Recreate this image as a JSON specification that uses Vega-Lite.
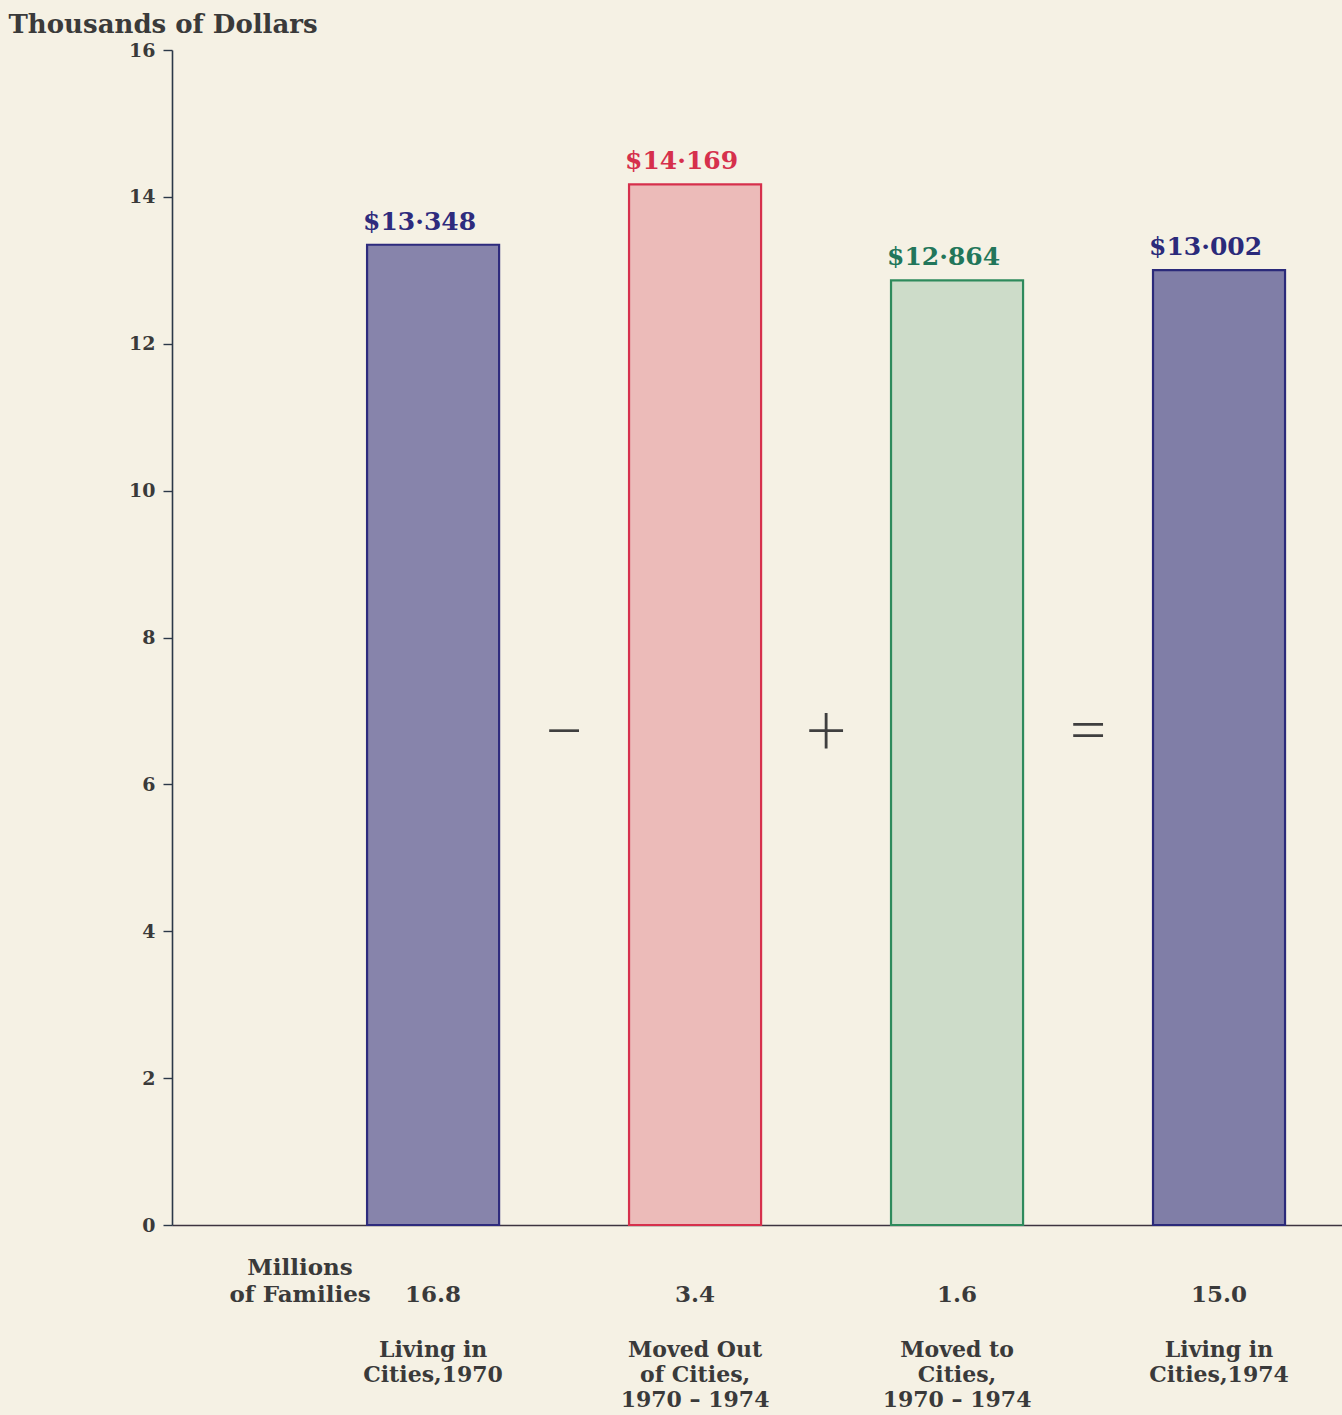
{
  "$schema": "https://vega.github.io/schema/vega-lite/v6.json",
  "width": 1170,
  "height": 1175,
  "autosize": {"type": "none"},
  "padding": {"left": 172, "top": 50, "right": 0, "bottom": 190},
  "background": "#f5f1e4",
  "config": {"view": {"stroke": null}, "font": "DejaVu Serif"},
  "data": {
    "values": [
      {"group": "Living in Cities, 1970", "name": "Living in\nCities,1970", "income": 13.348, "incomeLabel": "$13·348", "families": 16.8},
      {"group": "Moved Out of Cities, 1970 – 1974", "name": "Moved Out\nof Cities,\n1970 – 1974", "income": 14.169, "incomeLabel": "$14·169", "families": 3.4},
      {"group": "Moved to Cities, 1970 – 1974", "name": "Moved to\nCities,\n1970 – 1974", "income": 12.864, "incomeLabel": "$12·864", "families": 1.6},
      {"group": "Living in Cities, 1974", "name": "Living in\nCities,1974", "income": 13.002, "incomeLabel": "$13·002", "families": 15.0}
    ]
  },
  "encoding": {
    "x": {
      "field": "group",
      "type": "nominal",
      "sort": null,
      "scale": {"type": "band", "paddingInner": 0.496, "paddingOuter": 0.481, "align": 0.774},
      "axis": {"labels": false, "ticks": false, "title": null, "domainColor": "#3d3440", "domainWidth": 1.6}
    }
  },
  "layer": [
    {
      "mark": {"type": "bar", "strokeWidth": 2.2},
      "encoding": {
        "y": {
          "field": "income",
          "type": "quantitative",
          "scale": {"domain": [0, 16], "nice": false, "zero": true},
          "axis": {
            "values": [0, 2, 4, 6, 8, 10, 12, 14, 16],
            "format": "d",
            "grid": false,
            "domainColor": "#2b3848",
            "domainWidth": 1.6,
            "tickColor": "#2b3848",
            "tickWidth": 1.4,
            "tickSize": 9,
            "labelFontSize": 19,
            "labelFontWeight": "bold",
            "labelColor": "#3a3a3a",
            "labelPadding": 8,
            "title": "Thousands of Dollars",
            "titleAngle": 0,
            "titleX": -164,
            "titleY": -18,
            "titleAlign": "left",
            "titleBaseline": "alphabetic",
            "titleFontSize": 26,
            "titleFontWeight": "bold",
            "titleColor": "#3a3a3a"
          }
        },
        "fill": {
          "field": "group",
          "type": "nominal",
          "scale": {
            "domain": ["Living in Cities, 1970", "Moved Out of Cities, 1970 – 1974", "Moved to Cities, 1970 – 1974", "Living in Cities, 1974"],
            "range": ["#8784ab", "#ecbbb9", "#cddcc9", "#807ea7"]
          },
          "legend": null
        },
        "stroke": {
          "field": "group",
          "type": "nominal",
          "scale": {
            "domain": ["Living in Cities, 1970", "Moved Out of Cities, 1970 – 1974", "Moved to Cities, 1970 – 1974", "Living in Cities, 1974"],
            "range": ["#2e2b7d", "#d6304c", "#2e8a5c", "#2b2a7a"]
          },
          "legend": null
        }
      }
    },
    {
      "mark": {"type": "text", "align": "left", "baseline": "alphabetic", "dx": -4, "dy": -15, "fontSize": 25, "fontWeight": "bold"},
      "encoding": {
        "x": {"field": "group", "type": "nominal", "sort": null, "bandPosition": 0},
        "y": {"field": "income", "type": "quantitative"},
        "text": {"field": "incomeLabel"},
        "color": {
          "field": "group",
          "type": "nominal",
          "scale": {
            "domain": ["Living in Cities, 1970", "Moved Out of Cities, 1970 – 1974", "Moved to Cities, 1970 – 1974", "Living in Cities, 1974"],
            "range": ["#2e2b7d", "#d6304c", "#22765a", "#2b2a7a"]
          },
          "legend": null
        }
      }
    },
    {
      "mark": {"type": "text", "align": "center", "baseline": "alphabetic", "dy": 77, "fontSize": 23, "fontWeight": "bold", "color": "#3a3a3a"},
      "encoding": {
        "y": {"datum": 0},
        "text": {"field": "families", "type": "quantitative", "format": ".1f"}
      }
    },
    {
      "mark": {"type": "text", "align": "center", "baseline": "alphabetic", "dy": 132, "fontSize": 22, "fontWeight": "bold", "color": "#3a3a3a", "lineBreak": "\n", "lineHeight": 25},
      "encoding": {
        "y": {"datum": 0},
        "text": {"field": "name"}
      }
    },
    {
      "data": {"values": [{"group": "Living in Cities, 1970", "note": "Millions\nof Families"}]},
      "mark": {"type": "text", "align": "center", "baseline": "alphabetic", "dx": -67, "dy": 50, "fontSize": 23, "fontWeight": "bold", "color": "#3a3a3a", "lineBreak": "\n", "lineHeight": 27},
      "encoding": {
        "x": {"field": "group", "type": "nominal", "sort": null, "bandPosition": 0},
        "y": {"datum": 0},
        "text": {"field": "note"}
      }
    },
    {
      "data": {"values": [
        {"group": "Moved Out of Cities, 1970 – 1974", "op": "−"},
        {"group": "Moved to Cities, 1970 – 1974", "op": "+"},
        {"group": "Living in Cities, 1974", "op": "="}
      ]},
      "mark": {"type": "text", "align": "center", "baseline": "middle", "dx": -65, "fontSize": 72, "font": "Lato", "fontWeight": 300, "color": "#3f3f3f"},
      "encoding": {
        "x": {"field": "group", "type": "nominal", "sort": null, "bandPosition": 0},
        "y": {"datum": 6.7},
        "text": {"field": "op"}
      }
    }
  ]
}
